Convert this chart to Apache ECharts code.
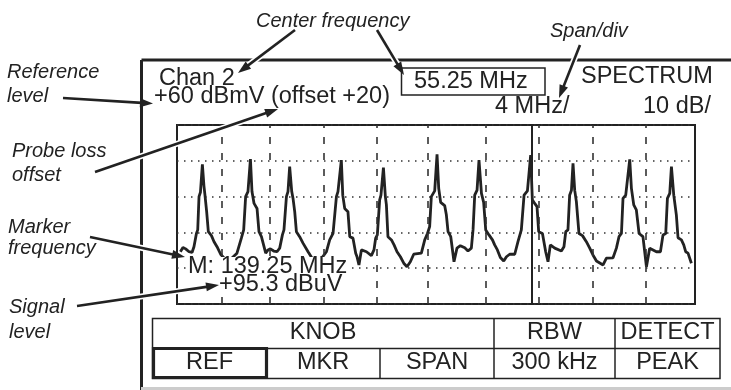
<!DOCTYPE html>
<html>
<head>
<meta charset="utf-8">
<script src="https://cdn.jsdelivr.net/npm/echarts@6/dist/echarts.min.js"></script>
<style>
html,body{margin:0;padding:0;background:#fff}
#main{width:731px;height:390px}
</style>
</head>
<body>
<div id="main"></div>
<script>
// trace: offset from centre (MHz) and level (dBmV)
var freqMHz = [-19.74,-19.54,-19.33,-19.07,-18.84,-18.69,-18.50,-18.40,-18.30,-18.19,-18.04,-17.92,-17.84,-17.71,-17.58,-17.34,-17.14,-16.91,-16.63,-16.08,
  -15.37,-15.03,-14.85,-14.70,-14.52,-14.33,-14.21,-14.05,-13.82,-13.67,-13.48,-13.15,-12.97,-12.79,-12.53,-12.28,-12.07,-11.86,-11.74,-11.55,
  -11.43,-11.30,-11.14,-11.04,-10.91,-10.78,-10.53,-10.27,-9.88,-9.29,-8.83,-8.46,-8.21,-7.95,-7.69,-7.57,-7.31,-7.20,-7.05,-6.80,
  -6.66,-6.41,-6.20,-6.10,-5.95,-5.76,-5.37,-4.99,-4.79,-4.66,-4.53,-4.35,-4.25,-4.06,-3.91,-3.83,-3.71,-3.44,-3.24,-3.01,
  -2.75,-2.49,-2.24,-1.98,-1.72,-1.13,-0.87,-0.66,-0.49,-0.36,-0.10,0.08,0.21,0.36,0.67,0.80,0.93,1.14,1.39,1.62,
  1.88,2.22,2.47,2.73,2.86,2.99,3.17,3.32,3.51,3.68,3.84,4.09,4.36,4.53,4.74,4.97,5.23,5.44,5.69,6.08,
  6.33,6.59,6.72,6.80,7.06,7.31,7.44,7.62,7.80,7.93,8.22,8.47,8.65,8.83,9.17,9.68,9.88,10.02,10.19,10.32,
  10.46,10.58,10.71,10.84,11.04,11.31,11.61,11.87,12.12,12.39,12.90,13.16,13.67,13.93,14.13,14.32,14.44,14.65,14.96,15.09,
  15.27,15.47,15.68,15.98,16.25,16.50,17.02,17.33,17.53,17.74,17.87,18.05,18.18,18.36,18.56,18.69,18.95,19.13,19.28,19.46,19.72];
var levelDb = [24.6,25.8,25.4,24.6,24.4,26.0,29.7,30.7,40.0,41.2,49.0,43.0,40.4,35.8,30.2,29.1,27.4,26.0,23.9,21.7,
  24.2,28.4,30.7,40.0,41.4,50.5,41.4,38.1,36.7,30.2,28.8,24.2,25.1,25.4,24.8,24.6,25.6,29.3,30.7,40.0,
  41.4,48.4,41.4,39.5,35.8,30.2,28.8,27.0,24.6,21.2,22.8,24.6,27.9,29.7,40.0,41.4,50.2,40.4,36.7,35.8,
  28.8,28.4,24.2,23.2,20.9,25.1,24.6,23.5,25.1,28.4,29.3,39.1,40.4,48.1,40.0,37.7,28.8,27.9,26.5,24.6,
  23.2,21.4,20.4,21.8,23.9,24.2,27.9,29.7,31.6,40.0,41.6,51.8,42.3,38.4,37.5,34.9,30.2,28.8,21.8,25.6,
  26.3,25.7,24.8,25.6,30.7,40.4,41.8,50.2,40.9,38.4,30.7,29.3,27.9,26.5,25.1,23.0,22.0,23.2,23.9,23.9,
  27.4,30.7,31.1,40.4,41.6,51.6,39.1,38.1,37.2,30.2,29.7,24.6,21.8,26.5,25.6,24.8,26.0,30.2,30.7,40.4,
  41.8,49.3,41.8,38.6,29.7,29.1,27.4,25.6,23.7,22.0,20.9,22.8,22.9,25.6,28.8,29.7,39.5,40.4,50.4,42.3,
  37.7,36.3,29.7,28.8,20.4,25.6,24.6,24.6,29.3,29.7,39.5,40.9,48.4,40.4,34.9,28.5,27.9,26.5,24.6,24.2,21.4];

// graticule as drawn on the screen (MHz from centre), marker position
var divLinesMHz = [-16.57,-12.80,-8.67,-4.56,-0.66,3.81,7.93,12.08,16.19];
var markerMHz = 7.37;
var refLevel = 60;
var dbPerDiv = 10;
var bottomLevel = 10;
var spanPerDiv = 4;

var knobCells = ['REF','MKR','SPAN'];
var ink = '#222';
var sans = '"Liberation Sans", Arial, sans-serif';
var big = '23.5px ' + sans;
var note = 'italic 20px ' + sans;

function txt(s, x, y, font, align) {
  return {type:'text', x:x, y:y, z:60, zlevel:1,
    style:{text:s, font:font, fill:ink, align:align || 'left', verticalAlign:'middle'}};
}
function ln(x1,y1,x2,y2,w,c) {
  return {type:'line', z:55, zlevel:1, shape:{x1:x1,y1:y1,x2:x2,y2:y2}, style:{stroke:c || ink, lineWidth:w || 1.5}};
}
function blank(x,y,w,h) {
  return {type:'rect', z:58, zlevel:1, shape:{x:x,y:y,width:w,height:h}, style:{fill:'#fff'}};
}
function arrow(x1,y1,x2,y2) {
  var dx = x2-x1, dy = y2-y1, L = Math.sqrt(dx*dx+dy*dy);
  var ux = dx/L, uy = dy/L, bx = x2-ux*13, by = y2-uy*13;
  return [
    {type:'line', z:62, zlevel:1, shape:{x1:x1,y1:y1,x2:bx,y2:by}, style:{stroke:'#fff', lineWidth:6}},
    {type:'line', z:63, zlevel:1, shape:{x1:x1,y1:y1,x2:bx+ux*2,y2:by+uy*2}, style:{stroke:ink, lineWidth:2.6}},
    {type:'polygon', z:63, zlevel:1, shape:{points:[[x2,y2],[bx-uy*4.5,by+ux*4.5],[bx+uy*4.5,by-ux*4.5]]}, style:{fill:ink}}
  ];
}

var els = [];
// instrument frame
els.push(ln(141.5,60,731,60,3), ln(141.5,60,141.5,390,3), ln(141,388.5,731,388.5,3,'#ccc'));
// header
els.push(txt('Chan 2',159,78.5,big));
els.push(txt('+60 dBmV (offset +20)',154,97,big));
els.push({type:'rect', z:55, zlevel:1, shape:{x:401.5,y:68,width:143.5,height:27}, style:{fill:'none', stroke:ink, lineWidth:1.5}});
els.push(txt('55.25 MHz',414,81.5,big));
els.push(txt('SPECTRUM',581,77,big));
els.push(txt('4 MHz/',495,107,big));
els.push(txt('10 dB/',643,107,big));
// marker readout, knocked out of the trace
els.push(blank(186,257,162,19), blank(217,276,128,18));
els.push(txt('M: 139.25 MHz',188,266.5,big));
els.push(txt('+95.3 dBuV',219,284.5,big));
// softkey table
els.push({type:'rect', z:55, zlevel:1, shape:{x:152.5,y:318.5,width:567.5,height:60}, style:{fill:'none', stroke:ink, lineWidth:1.5}});
els.push(ln(152.5,348.5,720,348.5), ln(494,318.5,494,378.5), ln(615,318.5,615,378.5), ln(380,348.5,380,378.5));
els.push({type:'rect', z:56, zlevel:1, shape:{x:153.5,y:348.5,width:113,height:29}, style:{fill:'none', stroke:ink, lineWidth:3.2}});
els.push(txt('KNOB',323,333,big,'center'), txt('RBW',554.5,333,big,'center'), txt('DETECT',667.5,333,big,'center'));
var cellX = [209.5,323,437];
knobCells.forEach(function(k,i){ els.push(txt(k,cellX[i],363,big,'center')); });
els.push(txt('300 kHz',554.5,363,big,'center'), txt('PEAK',667.5,363,big,'center'));
// callouts
els.push(txt('Center frequency',256,21,note), txt('Span/div',550,31.5,note));
els.push(txt('Reference',7,72.5,note), txt('level',7,96.5,note));
els.push(txt('Probe loss',12,151,note), txt('offset',12,175,note));
els.push(txt('Marker',8,227.5,note), txt('frequency',8,248.5,note));
els.push(txt('Signal',9,307.5,note), txt('level',9,332,note));
els = els.concat(arrow(63,98,153,103.5), arrow(95,172,278,109), arrow(90,237,185,257),
  arrow(77,306,219,285), arrow(295,30,238,73), arrow(377,30,404,75), arrow(580,45,559,98));

var chart = echarts.init(document.getElementById('main'));
chart.setOption({
  animation: false,
  backgroundColor: '#fff',
  grid: {left:177, top:125, right:36, bottom:86, show:true, borderColor:ink, borderWidth:2},
  xAxis: {type:'value', min:-20, max:20, interval:spanPerDiv, axisLine:{show:false}, axisTick:{show:false}, axisLabel:{show:false}, splitLine:{show:false}},
  yAxis: {type:'value', min:bottomLevel, max:refLevel, interval:dbPerDiv, axisLine:{show:false}, axisTick:{show:false}, axisLabel:{show:false},
    splitLine:{show:true, lineStyle:{type:[1.5,5.5], color:'#333', width:1.6}}},
  series: [{
    type: 'line',
    data: freqMHz.map(function(f,i){ return [f, levelDb[i]]; }),
    showSymbol: false,
    lineStyle: {color:ink, width:2.8},
    z: 3,
    markLine: {
      silent: true,
      symbol: ['none','none'],
      label: {show:false},
      lineStyle: {type:[7,9], color:'#333', width:1.6},
      data: divLinesMHz.map(function(v){ return {xAxis:v}; })
        .concat([{xAxis:markerMHz, lineStyle:{type:'solid', color:ink, width:2}}])
    }
  }],
  graphic: {elements: els}
});
</script>
</body>
</html>
